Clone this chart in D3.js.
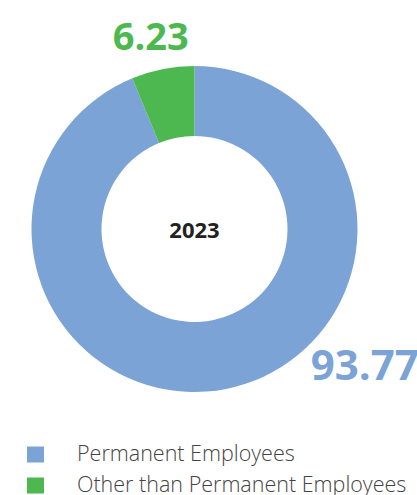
<!DOCTYPE html>
<html>
<head>
<meta charset="utf-8">
<script src="https://cdn.jsdelivr.net/npm/d3@7"></script>
<style>
  body { margin: 0; background: #fff; }
  svg { display: block; }
</style>
</head>
<body>
<svg id="vis"></svg>
<script>
// data
var categories = ["Permanent Employees", "Other than Permanent Employees"];
var values = [93.77, 6.23];
var valueLabels = ["93.77", "6.23"];
var centerLabel = "2023";

var colours = ["#7ba3d6", "#4cb84f"];

var w = 417;
var h = 495;
var cx = 194.5, cy = 229;
var outerR = 163, innerR = 93;

var svg = d3.select("#vis").attr("width", w).attr("height", h);

var pie = d3.pie().sort(null).value(function(d){ return d; });
var arc = d3.arc().innerRadius(innerR).outerRadius(outerR);

var g = svg.append("g").attr("transform", "translate(" + cx + "," + cy + ")");

var slices = pie(values);

g.selectAll("path")
    .data(slices)
    .enter()
    .append("path")
    .attr("d", arc)
    .attr("fill", function(d, i){ return colours[i]; });

// value labels (angle in degrees from top, radius from centre)
var labelPos = [{a: 128.6, r: 218, size: 42}, {a: -12.8, r: 197.2, size: 38}];

g.selectAll("text.val")
    .data(slices)
    .enter()
    .append("text")
    .attr("class", "val")
    .attr("x", function(d, i){ return labelPos[i].r * Math.sin(labelPos[i].a * Math.PI / 180); })
    .attr("y", function(d, i){ return -labelPos[i].r * Math.cos(labelPos[i].a * Math.PI / 180); })
    .attr("dy", "0.36em")
    .attr("text-anchor", "middle")
    .style("font-family", "'Open Sans', sans-serif")
    .style("font-weight", 700)
    .style("font-size", function(d, i){ return labelPos[i].size + "px"; })
    .attr("fill", function(d, i){ return colours[i]; })
    .text(function(d, i){ return valueLabels[i]; });

g.append("text")
    .attr("text-anchor", "middle")
    .attr("dy", "0.36em")
    .attr("y", 1)
    .style("font-family", "'Open Sans', sans-serif")
    .style("font-weight", 700)
    .style("font-size", "22px")
    .attr("fill", "#222")
    .text(centerLabel);

// legend
var legend = svg.append("g").attr("transform", "translate(27,446.5)");
var rowH = 31;

legend.selectAll("rect")
    .data(categories)
    .enter()
    .append("rect")
    .attr("x", 0)
    .attr("y", function(d, i){ return i * rowH; })
    .attr("width", 17)
    .attr("height", 16)
    .attr("fill", function(d, i){ return colours[i]; });

legend.selectAll("text")
    .data(categories)
    .enter()
    .append("text")
    .attr("x", 50)
    .attr("y", function(d, i){ return i * rowH + 14.5; })
    .style("font-family", "'Open Sans', sans-serif")
    .style("font-weight", 300)
    .style("font-size", "21.5px")
    .attr("fill", "#444")
    .text(function(d){ return d; });
</script>
</body>
</html>
